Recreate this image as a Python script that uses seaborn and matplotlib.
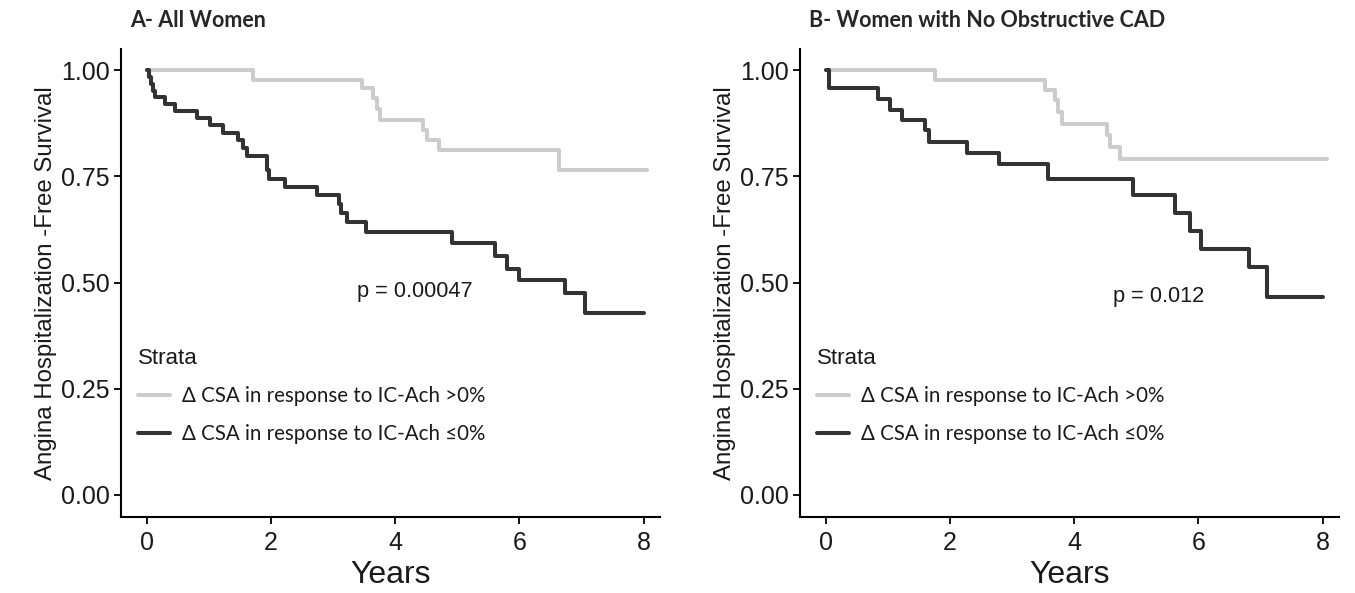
import numpy as np
import pandas as pd
import matplotlib
matplotlib.use("Agg")
import matplotlib.pyplot as plt
import seaborn as sns

# ---------------- data ----------------
strata_labels = ["\u0394 CSA in response to IC-Ach >0%", "\u0394 CSA in response to IC-Ach \u22640%"]

# Panel A - All Women
a_pos_time = [0, 1.70, 3.47, 3.64, 3.70, 3.76, 4.45, 4.51, 4.70, 6.63, 8.05]
a_pos_surv = [1.0, 0.978, 0.957, 0.934, 0.908, 0.882, 0.859, 0.835, 0.811, 0.765, 0.765]
a_neg_time = [0, 0.03, 0.06, 0.09, 0.12, 0.29, 0.45, 0.80, 1.02, 1.22, 1.47, 1.54, 1.61,
              1.93, 1.96, 2.23, 2.74, 3.09, 3.13, 3.22, 3.52, 4.91, 5.61, 5.80, 5.99,
              6.74, 7.06, 8.0]
a_neg_surv = [1.0, 0.984, 0.968, 0.952, 0.937, 0.921, 0.903, 0.888, 0.870, 0.852, 0.836,
              0.816, 0.797, 0.765, 0.743, 0.725, 0.706, 0.684, 0.663, 0.643, 0.620,
              0.592, 0.562, 0.533, 0.506, 0.475, 0.428, 0.428]

# Panel B - Women with No Obstructive CAD
b_pos_time = [0, 1.76, 3.53, 3.69, 3.74, 3.80, 4.52, 4.58, 4.74, 8.08]
b_pos_surv = [1.0, 0.978, 0.953, 0.929, 0.902, 0.874, 0.847, 0.820, 0.792, 0.792]
b_neg_time = [0, 0.05, 0.84, 1.03, 1.22, 1.60, 1.66, 2.27, 2.78, 3.57, 4.94, 5.62,
              5.86, 6.04, 6.81, 7.11, 8.0]
b_neg_surv = [1.0, 0.957, 0.933, 0.906, 0.882, 0.859, 0.832, 0.806, 0.780, 0.745,
              0.706, 0.663, 0.622, 0.580, 0.537, 0.467, 0.467]

panel_titles = ["A- All Women", "B- Women with No Obstructive CAD"]
p_values = ["p = 0.00047", "p = 0.012"]
x_ticks = [0, 2, 4, 6, 8]
y_ticks = [0.00, 0.25, 0.50, 0.75, 1.00]
y_tick_labels = ["0.00", "0.25", "0.50", "0.75", "1.00"]


def make_df(pt, ps, nt, ns):
    return pd.DataFrame({
        "time": list(pt) + list(nt),
        "surv": list(ps) + list(ns),
        "strata": [strata_labels[0]] * len(pt) + [strata_labels[1]] * len(nt),
    })


dfs = [make_df(a_pos_time, a_pos_surv, a_neg_time, a_neg_surv),
       make_df(b_pos_time, b_pos_surv, b_neg_time, b_neg_surv)]

# ---------------- style ----------------
sns.set_style("ticks")
plt.rcParams["font.family"] = ["Liberation Sans", "DejaVu Sans"]

palette = {strata_labels[0]: "#cccccc", strata_labels[1]: "#333333"}
txt = "#1a1a1a"

fig = plt.figure(figsize=(13.55, 5.93), dpi=100)
axes_pos = [[0.0893, 0.1282, 0.398, 0.7892], [0.5904, 0.1282, 0.398, 0.7892]]
p_pos = [(3.38, 0.48), (4.63, 0.466)]

for i, df in enumerate(dfs):
    ax = fig.add_axes(axes_pos[i])
    sns.lineplot(data=df, x="time", y="surv", hue="strata", palette=palette,
                 hue_order=strata_labels, estimator=None, sort=False,
                 drawstyle="steps-post", linewidth=2.9, ax=ax)
    ax.set_xlim(-0.42, 8.27)
    ax.set_ylim(-0.052, 1.05)
    ax.set_xticks(x_ticks)
    ax.set_yticks(y_ticks)
    ax.set_yticklabels(y_tick_labels)
    ax.tick_params(axis="both", labelsize=18, length=5, width=1.3, color="black",
                   labelcolor=txt)
    ax.tick_params(axis="x", pad=5)
    ax.tick_params(axis="y", pad=3)
    for s in ["left", "bottom"]:
        ax.spines[s].set_linewidth(1.5)
        ax.spines[s].set_color("black")
    sns.despine(ax=ax)
    ax.set_xlabel("Years", fontsize=23, labelpad=4, color=txt)
    ax.set_ylabel("Angina Hospitalization -Free Survival", fontsize=17.3, labelpad=3,
                  color=txt)
    ax.text(p_pos[i][0], p_pos[i][1], p_values[i], fontsize=15.7, va="center",
            ha="left", color=txt)
    ax.set_title(panel_titles[i], loc="left", fontsize=15.5, fontweight="bold",
                 family=["Lato", "DejaVu Sans"], pad=16, x=0.017)
    leg = ax.legend(loc="upper left", bbox_to_anchor=(0.012, 0.383), frameon=False,
                    title="Strata", fontsize=14.8, title_fontsize=16,
                    handlelength=1.55, handletextpad=0.6, labelspacing=0.85,
                    borderpad=0, alignment="left")
    for t in leg.get_texts():
        t.set_family(["Lato", "DejaVu Sans"])
        t.set_color(txt)
    leg.get_title().set_color(txt)
    for h in leg.get_lines():
        h.set_linewidth(2.9)

fig.savefig("out.png", dpi=100)
